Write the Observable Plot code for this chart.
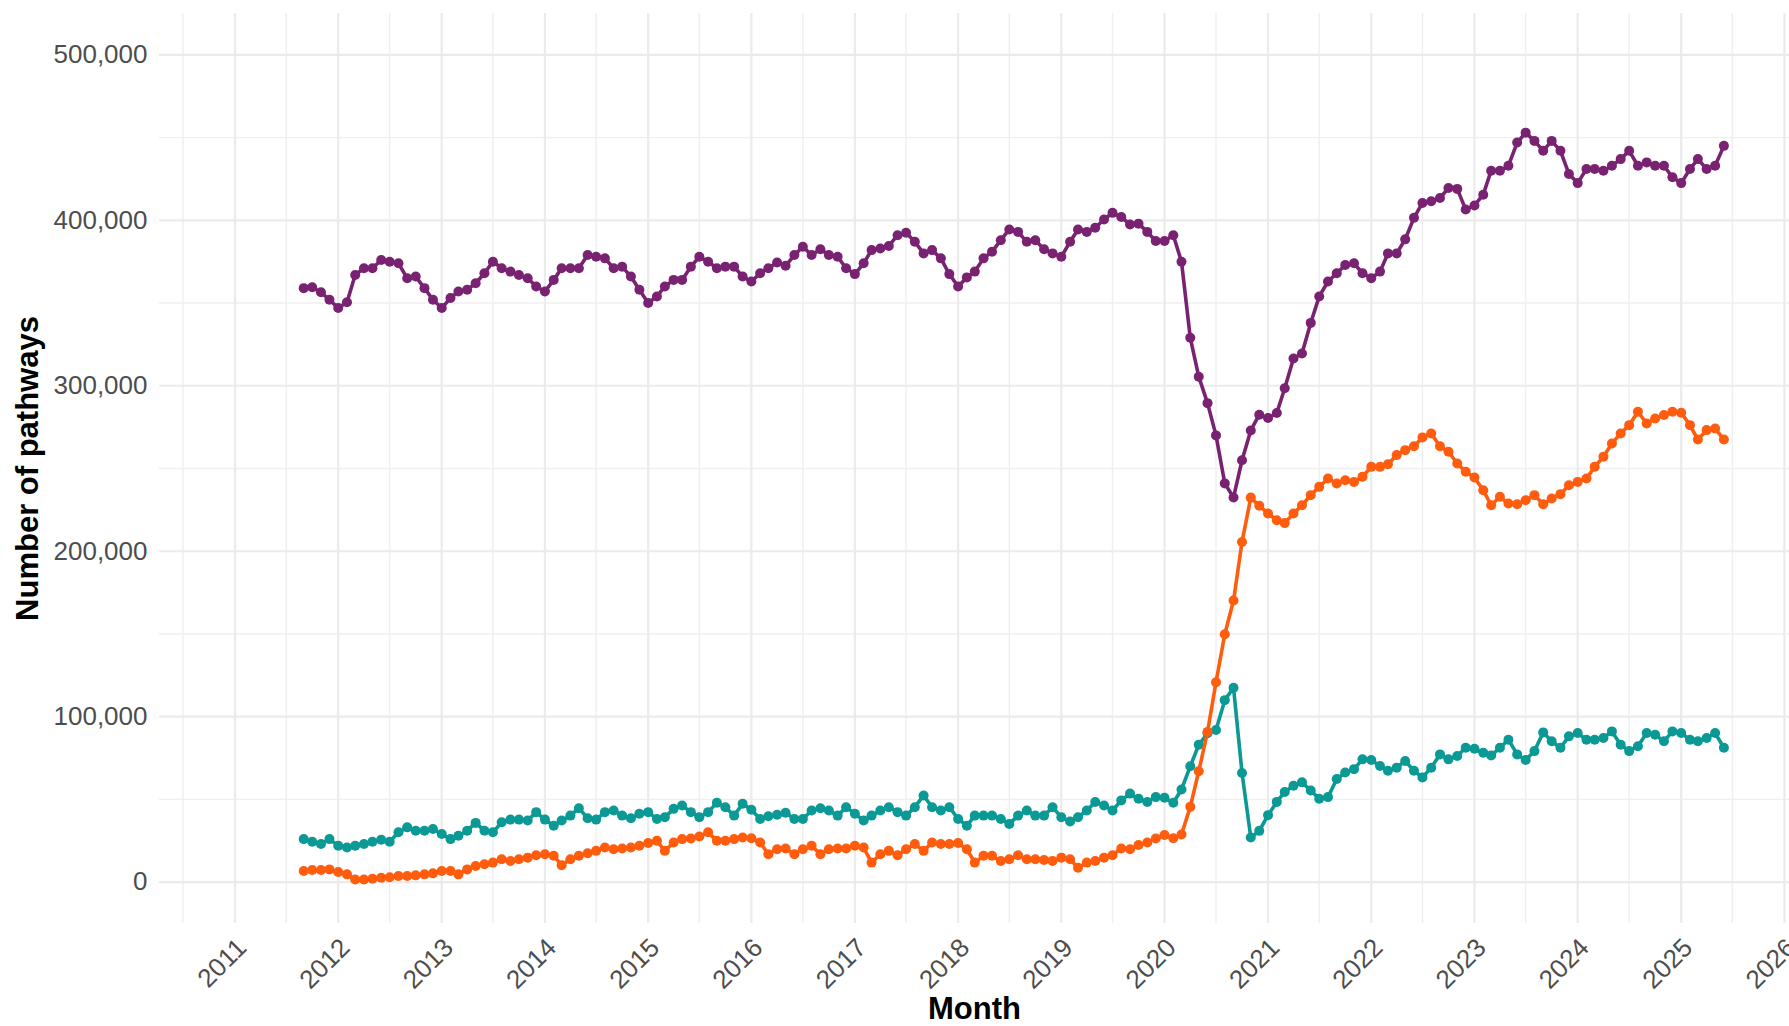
<!DOCTYPE html>
<html>
<head>
<meta charset="utf-8">
<script src="https://cdn.jsdelivr.net/npm/d3@7"></script>
<script src="https://cdn.jsdelivr.net/npm/@observablehq/plot@0.6"></script>
<style>
  html, body { margin: 0; padding: 0; background: #ffffff; }
  #chart svg { display: block; }
</style>
</head>
<body>
<div id="chart"></div>
<script>
// ---- Data (monthly, Sep 2011 – Jun 2025) ----
const firstMonth = "2011-09-01";
const lastMonth = "2025-06-01";

const purpleValues = [
  359000,359500,356500,352000,
  347000,350500,367000,371000,371000,376000,375000,374000,365000,366000,359000,352000,
  347000,353000,357000,358000,362000,368000,375000,371000,369000,367000,365000,360000,
  357000,364000,371000,371000,371000,379000,378000,377000,371000,372000,366000,358000,
  350000,354000,360000,364000,364000,372000,378000,375000,371000,372000,372000,366000,
  363000,368000,371000,374500,372500,379000,384000,379000,382500,379000,378000,371000,
  367500,374000,382000,383000,384500,391000,392500,387000,380000,382000,377000,367500,
  360000,365500,369000,377000,381000,388000,394500,393000,387000,388000,382500,380000,
  378000,387000,394500,393000,395500,400500,404500,402000,397500,398000,393000,387500,
  387500,391000,375000,329000,305500,289500,270000,241000,232500,255000,273000,282500,
  280500,283500,298500,316500,319500,338000,354000,363000,368000,373000,374000,368000,
  365000,369000,380000,380000,388500,401500,410500,411500,413500,419500,419000,406500,
  409000,415500,430000,430000,433000,447000,453000,448000,442000,448000,442000,428000,
  422500,431000,431000,430000,433000,437000,442000,433000,435000,433000,433000,426000,
  422500,431000,437000,431000,433000,445000
];

const orangeValues = [
  6700,7300,7300,7700,
  6100,4700,1600,1600,2000,2600,3000,3700,3700,4100,4700,5300,
  6700,6700,4700,7700,9800,10800,11800,13800,12800,13800,14800,16300,
  16900,15900,10200,13800,15900,17500,18900,20900,19900,20300,20900,22000,
  23600,25000,18900,24000,26000,26400,27600,30100,25000,25000,26000,27000,
  26500,24000,16900,19900,20300,16900,19900,22000,16900,19900,20300,20300,
  22000,20900,11800,16900,18900,16300,19900,23000,18900,24000,23000,23000,
  23600,19900,11800,15900,15900,12800,13800,16300,13800,13800,13400,12800,
  14800,13800,8700,11800,12800,14800,16300,20300,19900,22400,24000,26400,
  28500,26500,28800,45500,67000,90800,120800,149800,170200,205600,232400,227500,
  222800,218700,217000,222800,227800,233900,238900,244000,240900,242900,241900,245000,
  251000,251000,252600,258100,261100,263500,268800,271200,263500,260100,253000,248000,
  244600,236900,227800,232900,228800,228400,230800,233900,228400,231900,234500,239900,
  241900,244000,251000,257100,265100,271200,276200,284300,277200,280200,282300,284300,
  283700,276200,267500,273200,274200,267500
];

const tealValues = [
  26000,24400,23000,26000,
  22000,20900,22000,23000,24400,25600,24400,30100,33100,31100,31100,32100,
  29100,26000,28000,31100,35800,31100,30100,36200,37800,37800,37200,42300,
  37800,34100,37200,40200,44700,38600,37800,42300,43300,40200,38600,41300,
  42300,38200,39200,44300,46300,42300,39200,42300,48000,45300,40200,47400,
  43800,38200,39800,40700,41900,38200,38200,43300,44700,43300,40200,45300,
  41300,37200,40200,43300,45300,42300,40200,45300,52400,45300,43300,45300,
  38200,34100,40200,40200,40200,38200,35200,40200,43300,40200,40200,45300,
  39200,36600,39200,43300,48400,46300,43300,49400,53500,50400,48400,51400,
  51000,48000,56000,70000,83000,90000,92000,110000,117500,66000,27000,31000,
  40500,48500,54500,58300,60300,55400,50400,51400,62300,66300,68300,74200,
  73800,70200,67300,69200,73200,67300,63300,69200,77200,74200,76200,81200,
  80600,78200,76600,81200,86100,77200,73800,79200,90500,85100,81200,88100,
  90100,86100,86100,87100,91100,83100,79200,82100,90100,89100,85100,91100,
  90100,86100,85100,87100,90100,81200
];

const yTickValues = [0, 100000, 200000, 300000, 400000, 500000];
const yMinorValues = [50000, 150000, 250000, 350000, 450000];
const xTickYears = [2011, 2012, 2013, 2014, 2015, 2016, 2017, 2018, 2019, 2020, 2021, 2022, 2023, 2024, 2025, 2026];
const xMinorYears = [2010, 2011, 2012, 2013, 2014, 2015, 2016, 2017, 2018, 2019, 2020, 2021, 2022, 2023, 2024, 2025];

const colors = { purple: "#7a2272", orange: "#ff5c0d", teal: "#0a9994" };

// ---- Build tables ----
const months = d3.utcMonth.range(new Date(firstMonth), d3.utcMonth.offset(new Date(lastMonth), 1));
const toRows = (vals) => vals.map((v, i) => ({ date: months[i], value: v }));
const purpleRows = toRows(purpleValues);
const orangeRows = toRows(orangeValues);
const tealRows = toRows(tealValues);

const majorX = xTickYears.map(y => new Date(Date.UTC(y, 0, 1)));
const minorX = xMinorYears.map(y => new Date(Date.UTC(y, 6, 1)));

const font = "'Liberation Sans', Arial, Helvetica, sans-serif";

const chart = Plot.plot({
  width: 1789,
  height: 1026,
  marginLeft: 159,
  marginRight: 0,
  marginTop: 13,
  marginBottom: 103,
  style: { fontFamily: font, background: "#ffffff", overflow: "hidden" },
  x: { type: "utc", domain: [new Date(Date.UTC(2010, 3, 9)), new Date(Date.UTC(2026, 0, 19))] },
  y: { domain: [-25000, 525000] },
  marks: [
    Plot.ruleX(minorX, { stroke: "#efefef", strokeWidth: 1.4 }),
    Plot.ruleY(yMinorValues, { stroke: "#efefef", strokeWidth: 1.4 }),
    Plot.ruleX(majorX, { stroke: "#ebebeb", strokeWidth: 2.2 }),
    Plot.ruleY(yTickValues, { stroke: "#ebebeb", strokeWidth: 2.2 }),

    Plot.axisY({
      ticks: yTickValues, tickFormat: d3.format(","), tickSize: 0, tickPadding: 12,
      fontSize: 26, fill: "#4d4d4d", label: null
    }),
    Plot.axisX({
      ticks: majorX, tickFormat: d3.utcFormat("%Y"), tickSize: 0, tickPadding: 0,
      tickRotate: -45, textAnchor: "end", lineAnchor: "middle",
      dx: 7, dy: 20, fontSize: 26, fill: "#4d4d4d", label: null
    }),

    Plot.text(["Number of pathways"], {
      frameAnchor: "left", textAnchor: "middle", lineAnchor: "middle",
      dx: -131, rotate: -90, fontSize: 31, fontWeight: "bold", fill: "#000"
    }),
    Plot.text(["Month"], {
      frameAnchor: "bottom", textAnchor: "middle", lineAnchor: "middle",
      dy: 86, fontSize: 31, fontWeight: "bold", fill: "#000"
    }),

    Plot.line(tealRows, { x: "date", y: "value", stroke: colors.teal, strokeWidth: 3.6 }),
    Plot.dot(tealRows, { x: "date", y: "value", fill: colors.teal, r: 5, stroke: null }),
    Plot.line(orangeRows, { x: "date", y: "value", stroke: colors.orange, strokeWidth: 3.6 }),
    Plot.dot(orangeRows, { x: "date", y: "value", fill: colors.orange, r: 5, stroke: null }),
    Plot.line(purpleRows, { x: "date", y: "value", stroke: colors.purple, strokeWidth: 3.6 }),
    Plot.dot(purpleRows, { x: "date", y: "value", fill: colors.purple, r: 5, stroke: null })
  ]
});

document.getElementById("chart").appendChild(chart);
</script>
</body>
</html>
